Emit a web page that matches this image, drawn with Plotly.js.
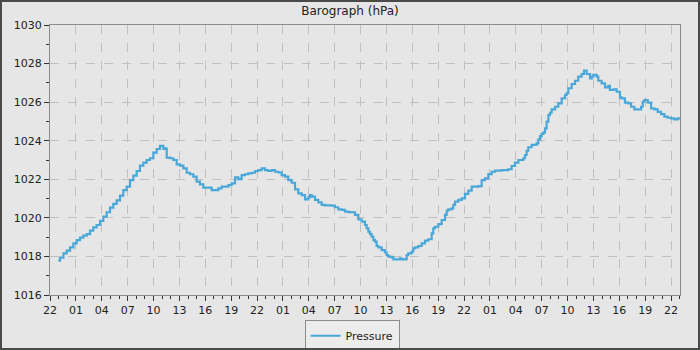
<!DOCTYPE html>
<html>
<head>
<meta charset="utf-8">
<script src="https://cdn.plot.ly/plotly-3.0.1.min.js"></script>
<style>
  html, body { margin: 0; padding: 0; background: #e6e6e6; }
  #wrap { position: relative; width: 700px; height: 350px; }
  #chart { width: 700px; height: 350px; }
  #frame { position: absolute; left: 0; top: 0; width: 700px; height: 350px; box-sizing: border-box; border: 2px solid #4a4a4a; pointer-events: none; }
</style>
</head>
<body>
<div id="wrap"><div id="chart"></div><div id="frame"></div></div>
<script>
// Hours elapsed since 22:00 on the first day
const hoursSinceStart = [
  0.97, 1.16, 1.55, 1.93, 2.32, 2.71, 3.09, 3.48, 3.86, 4.25, 4.64, 5.02, 5.41, 5.80, 6.18, 6.57, 6.96, 7.34, 7.73, 8.12,
  8.50, 8.89, 9.28, 9.66, 10.05, 10.43, 10.82, 11.21, 11.59, 11.98, 12.37, 12.75, 13.14, 13.33, 13.53, 13.91, 14.30, 14.69, 15.07, 15.46,
  15.85, 16.23, 16.62, 17.00, 17.39, 17.78,
  17.97, 18.36, 18.74, 19.13, 19.52, 19.90, 20.29, 20.68, 21.06, 21.45, 21.83, 22.22, 22.61, 22.99, 23.38, 23.77, 24.15, 24.54, 24.93, 25.31,
  25.70, 26.09, 26.47, 26.86, 27.25, 27.63, 28.02, 28.41, 28.79, 29.18, 29.57, 29.95, 30.14, 30.34, 30.72, 31.11, 31.50, 31.88, 32.27, 32.66,
  33.04, 33.43, 33.82, 34.20, 34.59, 34.97, 35.36, 35.75, 36.13,
  36.52, 36.71, 36.91, 37.10, 37.29, 37.49, 37.68, 37.87, 38.07, 38.45, 38.84, 39.03, 39.23, 39.61, 39.81, 40.00, 40.39, 40.58, 40.77, 41.16,
  41.35, 41.54, 41.93, 42.12, 42.32, 42.70, 43.09, 43.48, 43.86, 44.25, 44.44, 44.64, 45.02, 45.41, 45.80, 45.99, 46.18, 46.57, 46.76, 46.96,
  47.34, 47.73, 48.11, 48.50, 48.89, 49.27, 49.66, 50.05, 50.43, 50.82, 51.21, 51.59, 51.98, 52.37, 52.75, 53.14, 53.52, 53.91, 54.30, 54.68, 54.88,
  55.07, 55.26, 55.46, 55.84, 56.23, 56.42, 56.62, 56.81, 57.00, 57.20, 57.39, 57.58, 57.78, 57.97, 58.16, 58.55, 58.93, 59.32, 59.71, 59.90,
  60.09, 60.48, 60.87, 61.25, 61.64, 61.91, 62.22, 62.61, 62.80, 62.99, 63.38, 63.57, 63.96, 64.35, 64.73, 64.92, 65.31, 65.70, 66.08, 66.28,
  66.66, 67.05, 67.37, 67.75, 68.14, 68.53, 68.72, 68.91, 69.30, 69.69, 70.07, 70.46, 70.85, 71.23, 71.62, 72.00, 72.39, 72.78, 73.09
];

// Pressure readings (hPa)
const pressure = [
  1017.78, 1017.94, 1018.16, 1018.30, 1018.47, 1018.68, 1018.85, 1018.97, 1019.08, 1019.16, 1019.34, 1019.51, 1019.63, 1019.84, 1020.06, 1020.29, 1020.53, 1020.72, 1020.91, 1021.15,
  1021.44, 1021.62, 1021.96, 1022.19, 1022.43, 1022.71, 1022.86, 1023.00, 1023.09, 1023.38, 1023.57, 1023.73, 1023.57, 1023.60, 1023.12, 1023.09, 1023.00, 1022.77, 1022.71, 1022.57,
  1022.34, 1022.26, 1022.14, 1021.88, 1021.74, 1021.57,
  1021.57, 1021.57, 1021.44, 1021.44, 1021.53, 1021.62, 1021.62, 1021.70, 1021.79, 1022.10, 1022.01, 1022.22, 1022.26, 1022.31, 1022.34, 1022.43, 1022.48, 1022.57, 1022.48, 1022.43,
  1022.48, 1022.39, 1022.36, 1022.22, 1022.14, 1021.96, 1021.82, 1021.48, 1021.27, 1021.18, 1020.96, 1021.06, 1021.18, 1021.10, 1020.93, 1020.80, 1020.67, 1020.65, 1020.65, 1020.63,
  1020.55, 1020.44, 1020.41, 1020.32, 1020.30, 1020.29, 1020.15, 1019.92, 1019.80,
  1019.63, 1019.46, 1019.28, 1019.16, 1019.02, 1018.85, 1018.77, 1018.54, 1018.47, 1018.33, 1018.21, 1018.07, 1017.99, 1017.95, 1017.85, 1017.85, 1017.85, 1017.90, 1017.85, 1017.85,
  1018.07, 1018.16, 1018.25, 1018.42, 1018.47, 1018.54, 1018.68, 1018.82, 1018.89, 1019.20, 1019.46, 1019.54, 1019.68, 1019.89, 1020.15, 1020.37, 1020.44, 1020.49, 1020.67, 1020.84,
  1020.93, 1021.01, 1021.24, 1021.41, 1021.62, 1021.62, 1021.65, 1021.96, 1022.05, 1022.27, 1022.39, 1022.45, 1022.45, 1022.48, 1022.48, 1022.52, 1022.69, 1022.86, 1023.00, 1023.00, 1023.09,
  1023.26, 1023.48, 1023.66, 1023.78, 1023.78, 1023.86, 1024.07, 1024.24, 1024.35, 1024.42, 1024.64, 1024.99, 1025.33, 1025.45, 1025.63, 1025.76, 1025.94, 1026.20, 1026.37, 1026.46,
  1026.72, 1026.94, 1027.11, 1027.32, 1027.46, 1027.63, 1027.46, 1027.23, 1027.32, 1027.41, 1027.32, 1027.11, 1026.97, 1026.77, 1026.84, 1026.63, 1026.66, 1026.54, 1026.25, 1026.20,
  1025.97, 1025.94, 1025.76, 1025.63, 1025.63, 1025.76, 1026.02, 1026.11, 1025.97, 1025.68, 1025.63, 1025.50, 1025.38, 1025.25, 1025.19, 1025.16, 1025.11, 1025.16, 1025.16
];

const seriesName = 'Pressure';
const chartTitle = 'Barograph (hPa)';
const startTime = '2024-01-01 22:00:00';
const endTime = '2024-01-04 23:02:30';
const yRange = [1016, 1030];

function fmt(ms) {
  const d = new Date(ms);
  const p = n => String(n).padStart(2, '0');
  return d.getUTCFullYear() + '-' + p(d.getUTCMonth() + 1) + '-' + p(d.getUTCDate()) + ' ' +
         p(d.getUTCHours()) + ':' + p(d.getUTCMinutes()) + ':' + p(d.getUTCSeconds());
}
const baseMs = Date.UTC(2024, 0, 1, 22, 0, 0);
const times = hoursSinceStart.map(h => fmt(baseMs + Math.round(h * 3600000)));

const FONT = 'DejaVu Sans, sans-serif';

const trace = {
  x: times,
  y: pressure,
  type: 'scatter',
  mode: 'lines',
  name: seriesName,
  line: { color: '#4aa8d8', width: 2.2, shape: 'hv' },
  showlegend: true
};

const layout = {
  width: 700,
  height: 350,
  paper_bgcolor: '#e6e6e6',
  plot_bgcolor: '#e6e6e6',
  font: { family: FONT, size: 11, color: '#222222' },
  margin: { l: 50, r: 20, t: 25, b: 55, pad: 0, autoexpand: false },
  title: { text: chartTitle, x: 0.5, xanchor: 'center', y: 0.968, yanchor: 'middle', yref: 'container',
           font: { family: FONT, size: 12, color: '#222222' } },
  xaxis: {
    type: 'date',
    range: [startTime, endTime],
    tick0: startTime,
    dtick: 3 * 3600000,
    tickformat: '%H',
    ticks: 'outside', ticklen: 5, tickcolor: '#333333', tickwidth: 1,
    showline: true, linecolor: '#8c8c8c', linewidth: 1, mirror: true,
    showgrid: true, gridcolor: '#c0c0c0', griddash: 'dash', gridwidth: 1,
    zeroline: false, automargin: false,
    tickfont: { family: FONT, size: 11, color: '#222222' },
    minor: { dtick: 3600000, ticks: 'outside', ticklen: 3, tickcolor: '#333333', showgrid: false },
    fixedrange: true
  },
  yaxis: {
    range: yRange,
    dtick: 2,
    ticks: 'outside', ticklen: 5, tickcolor: '#333333', tickwidth: 1,
    showline: true, linecolor: '#8c8c8c', linewidth: 1, mirror: true,
    showgrid: true, gridcolor: '#c0c0c0', griddash: 'dash', gridwidth: 1,
    zeroline: false, automargin: false,
    tickfont: { family: FONT, size: 11, color: '#222222' },
    minor: { dtick: 1, ticks: 'outside', ticklen: 3, tickcolor: '#333333', showgrid: false },
    fixedrange: true
  },
  showlegend: true,
  legend: {
    orientation: 'h',
    xref: 'container', yref: 'container',
    x: 0.503, xanchor: 'center',
    y: 0.085, yanchor: 'top',
    bgcolor: '#ececec',
    bordercolor: '#8c8c8c',
    borderwidth: 1,
    itemwidth: 30,
    tracegroupgap: 0,
    font: { family: FONT, size: 11, color: '#222222' }
  }
};

Plotly.newPlot('chart', [trace], layout, { displayModeBar: false, staticPlot: true });
</script>
</body>
</html>
